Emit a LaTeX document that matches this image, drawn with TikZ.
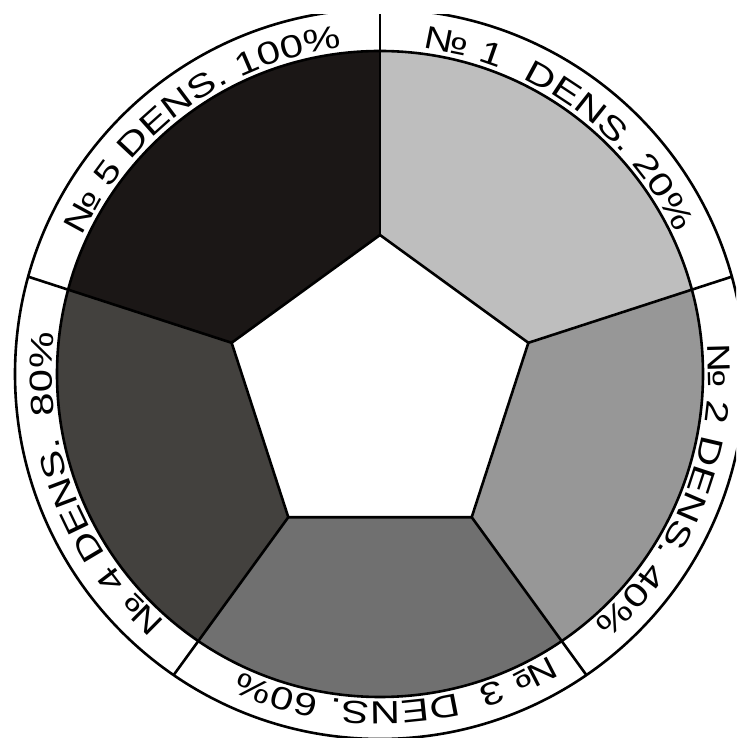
\documentclass[tikz,border=0pt]{standalone}
\usepackage{fontspec}
\usetikzlibrary{calc,decorations.text}
\newfontfamily\ringfont[FakeStretch=1.3]{Liberation Sans}
\newcommand\rf{\ringfont\fontsize{32pt}{32pt}\selectfont}
\newcommand\gapbox[1]{\rule{#1}{0pt}}
\definecolor{sone}{HTML}{BEBEBE}
\definecolor{stwo}{HTML}{979797}
\definecolor{sthree}{HTML}{707070}
\definecolor{sfour}{HTML}{43413E}
\definecolor{sfive}{HTML}{1B1716}
\tikzset{
  rule/.style={draw=black, line width=2.6pt},
  ringtext/.style={decorate, decoration={text along path, text align=center, text={|\rf|#1}}}
}
\begin{document}
\begin{tikzpicture}[x=1pt,y=1pt,line join=round]
\useasboundingbox (0,0) rectangle (736,738);
\fill[white] (0,0) rectangle (736,738);
\clip (0,0) rectangle (736,723);
\coordinate (C) at (380,364);
\coordinate (P) at (380,347);
\foreach \a/\n in {90/1,18/2,-54/3,-126/4,162/5}
  \coordinate (V\n) at ($(P)+(\a:156pt)$);
% sectors
\begin{scope}
  \clip (C) circle[radius=323pt];
  \fill[sone]   (P) -- ($(P)+(90:800pt)$)   -- ($(P)+(18:800pt)$)   -- cycle;
  \fill[stwo]   (P) -- ($(P)+(18:800pt)$)   -- ($(P)+(-54:800pt)$)  -- cycle;
  \fill[sthree] (P) -- ($(P)+(-54:800pt)$)  -- ($(P)+(-126:800pt)$) -- cycle;
  \fill[sfour]  (P) -- ($(P)+(-126:800pt)$) -- ($(P)+(-198:800pt)$) -- cycle;
  \fill[sfive]  (P) -- ($(P)+(162:800pt)$)  -- ($(P)+(90:800pt)$)   -- cycle;
\end{scope}
\fill[white] (V1) -- (V2) -- (V3) -- (V4) -- (V5) -- cycle;
% dividers
\begin{scope}
  \clip (C) circle[radius=365pt];
  \foreach \a/\n in {90/1,18/2,-54/3,-126/4,162/5}
    \draw[rule] (V\n) -- ($(P)+(\a:800pt)$);
\end{scope}
\draw[rule] (C) circle[radius=323pt];
\draw[rule] (C) circle[radius=365pt];
\draw[rule] (V1) -- (V2) -- (V3) -- (V4) -- (V5) -- cycle;
% ring labels
\path[ringtext={№ 1{\gapbox{14pt}} DENS. 20{\%}}]
  ($(C)+(114:328pt)$) arc[start angle=114,end angle=-6,radius=328pt];
\path[ringtext={№ 2 DENS. 40{\%}}]
  ($(C)+(38:328pt)$) arc[start angle=38,end angle=-82,radius=328pt];
\path[ringtext={№ 3{\gapbox{10pt}} DENS. 60{\%}}]
  ($(C)+(-27:328pt)$) arc[start angle=-27,end angle=-147,radius=328pt];
\path[ringtext={№ 4 DENS.{\gapbox{10pt}} 80{\%}}]
  ($(C)+(-99:328pt)$) arc[start angle=-99,end angle=-219,radius=328pt];
\path[ringtext={№ 5 DENS. 100{\%}}]
  ($(C)+(186:328pt)$) arc[start angle=186,end angle=66,radius=328pt];
\end{tikzpicture}
\end{document}
